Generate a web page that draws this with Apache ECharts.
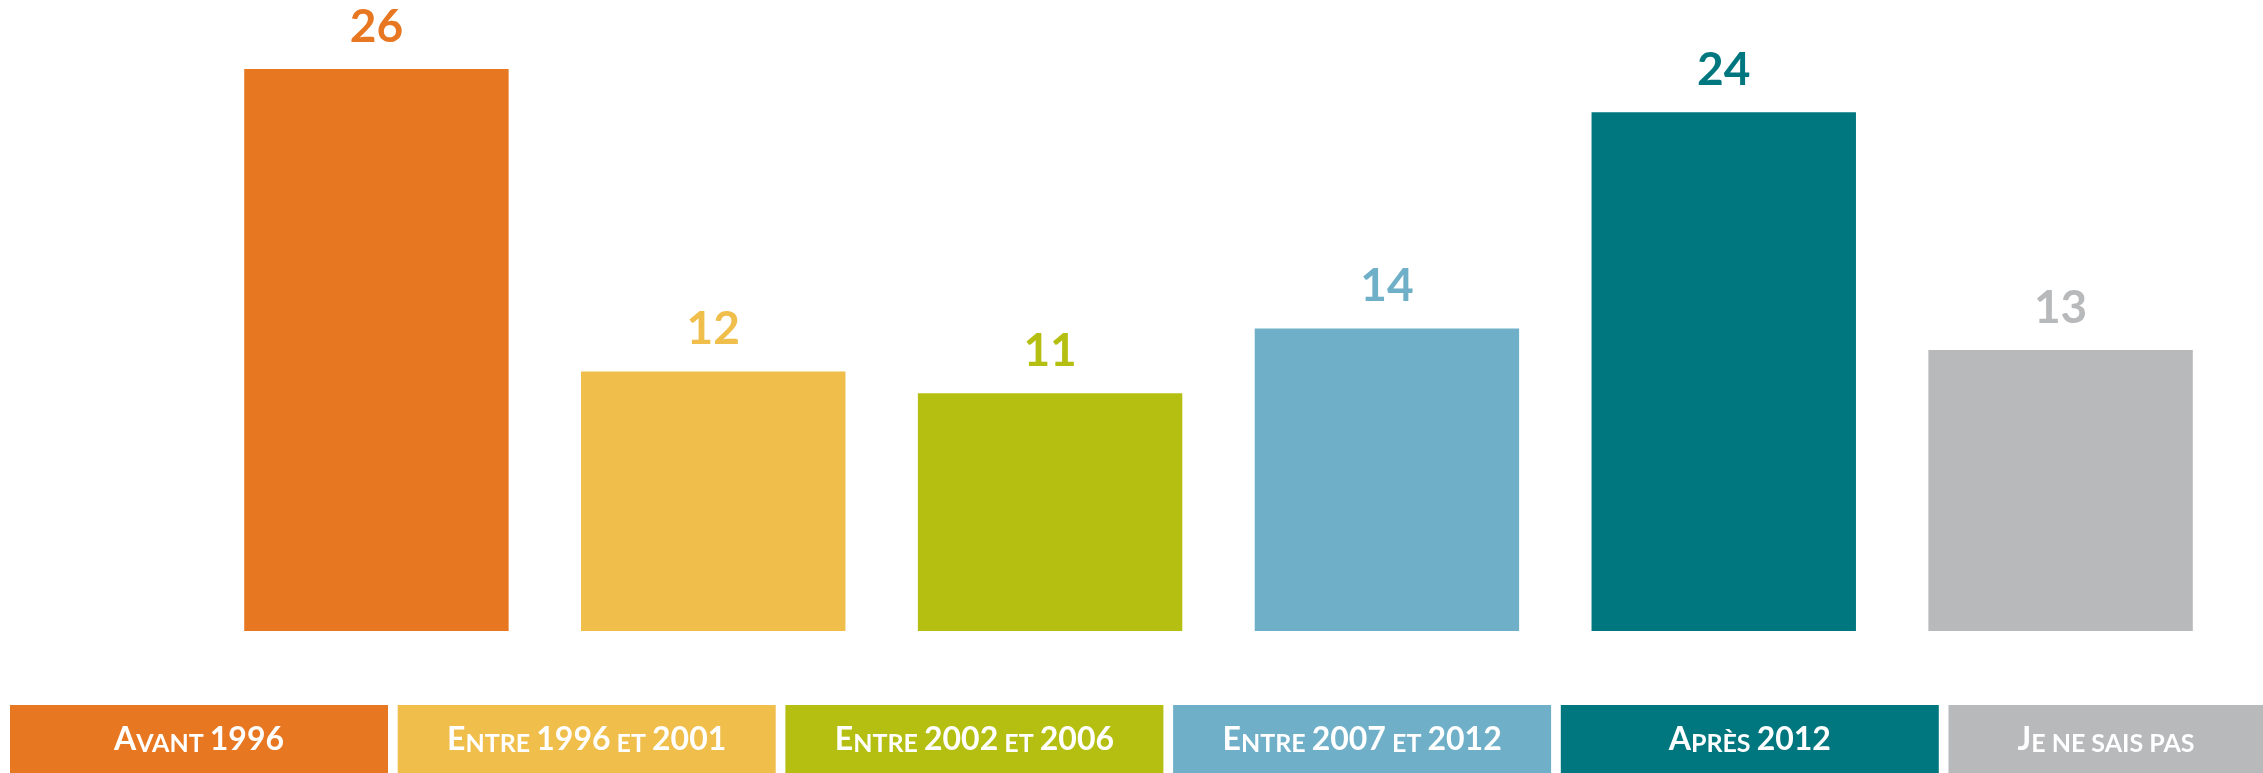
<!DOCTYPE html>
<html>
<head>
<meta charset="utf-8">
<script src="https://cdn.jsdelivr.net/npm/echarts@6/dist/echarts.min.js"></script>
<style>
  html, body { margin: 0; padding: 0; background: #fff; }
  #chart { width: 2263px; height: 773px; }
</style>
</head>
<body>
<div id="chart"></div>
<script>
// données
var categories = ['Avant 1996', 'Entre 1996 et 2001', 'Entre 2002 et 2006', 'Entre 2007 et 2012', 'Après 2012', 'Je ne sais pas'];
var values = [26, 12, 11, 14, 24, 13];
var colors = ['#E87722', '#F0BE4A', '#B5BF12', '#6FB0C8', '#00777F', '#B8B9BB'];

// petites capitales : première lettre en grand, le reste en petit
function smallCaps(str) {
  return str.split(' ').map(function (w) {
    if (/^[0-9]/.test(w)) return '{b|' + w + '}';
    var first = w.charAt(0);
    if (first === first.toUpperCase()) {
      return '{b|' + first + '}' + (w.length > 1 ? '{s|' + w.slice(1).toUpperCase() + '}' : '');
    }
    return '{s|' + w.toUpperCase() + '}';
  }).join('{s| }');
}

var chart = echarts.init(document.getElementById('chart'));

var barData = values.map(function (v, i) {
  return { value: v, itemStyle: { color: colors[i] }, label: { color: colors[i] } };
});

var boxData = categories.map(function (c, i) {
  var ts = { backgroundColor: colors[i] };
  // la dernière case est coupée par le bord : texte centré sur la partie visible
  if (i === categories.length - 1) {
    ts.width = 315;
    ts.padding = [17, 63, 19, 0];
  }
  return { value: c, textStyle: ts };
});

var option = {
  animation: false,
  grid: [
    { left: 208, right: 34, top: 69, bottom: 142, outerBoundsMode: 'none' },
    // bandeau du bas : les étiquettes sont posées sur les graduations
    { left: 199, width: 1938.5, top: 699, height: 1, outerBoundsMode: 'none' }
  ],
  xAxis: [
    {
      gridIndex: 0,
      type: 'category',
      data: categories,
      axisLine: { show: false },
      axisTick: { show: false },
      axisLabel: { show: false }
    },
    {
      gridIndex: 1,
      type: 'category',
      boundaryGap: false,
      data: boxData,
      axisLine: { show: false },
      axisTick: { show: false },
      axisLabel: {
        interval: 0,
        margin: 5,
        hideOverlap: false,
        overflow: 'none',
        width: 378,
        padding: [17, 0, 19, 0],
        align: 'center',
        formatter: function (v) { return smallCaps(v); },
        rich: {
          b: { fontFamily: 'Lato', fontWeight: 'bold', fontSize: 32, color: '#fff', lineHeight: 34, verticalAlign: 'bottom' },
          s: { fontFamily: 'Lato', fontWeight: 'bold', fontSize: 25, color: '#fff', lineHeight: 34, verticalAlign: 'bottom' }
        }
      }
    }
  ],
  yAxis: [
    { gridIndex: 0, type: 'value', min: 0, max: 26, show: false },
    { gridIndex: 1, type: 'value', show: false }
  ],
  series: [
    {
      type: 'bar',
      xAxisIndex: 0,
      yAxisIndex: 0,
      barCategoryGap: '21.5%',
      data: barData,
      label: {
        show: true,
        position: 'top',
        distance: 19,
        fontFamily: 'Lato',
        fontWeight: 'bold',
        fontSize: 46
      }
    }
  ]
};

chart.setOption(option);
</script>
</body>
</html>
